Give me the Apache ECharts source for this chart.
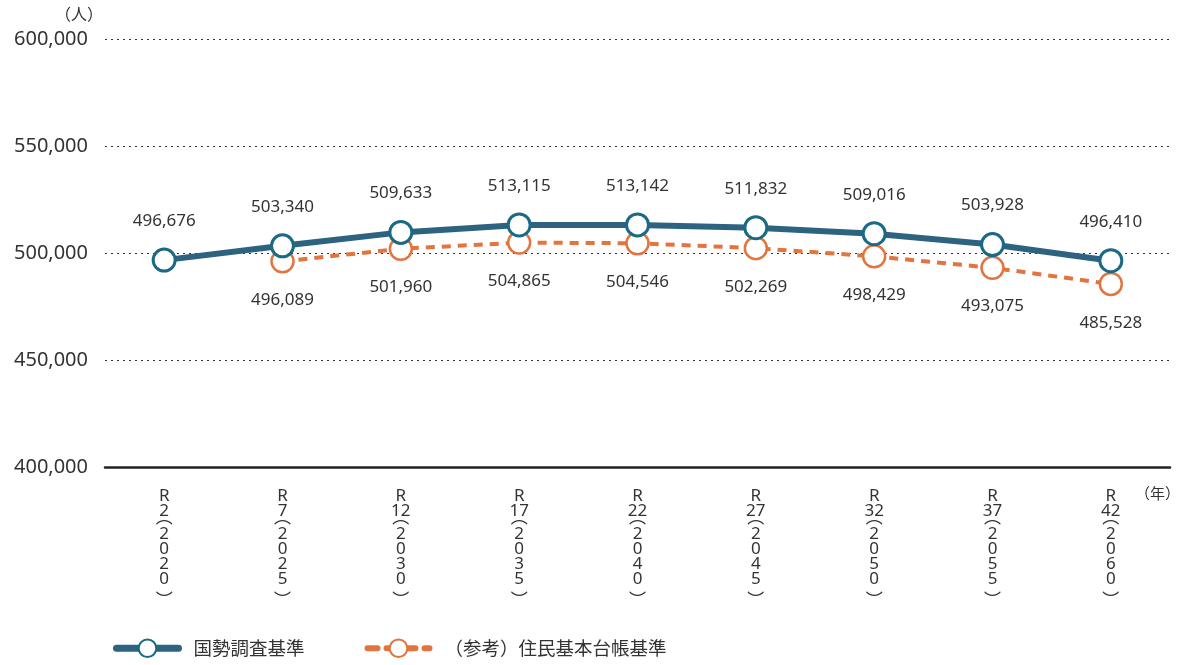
<!DOCTYPE html>
<html><head><meta charset="utf-8">
<script src="https://cdn.jsdelivr.net/npm/echarts@6/dist/echarts.min.js"></script>
<style>html,body{margin:0;padding:0;background:#fff}#c{width:1180px;height:665px}</style>
</head><body><div id="c"></div>
<script>
const reiwa = ['2','7','12','17','22','27','32','37','42'];
const years = ['2020','2025','2030','2035','2040','2045','2050','2055','2060'];
const kokusei = [496676, 503340, 509633, 513115, 513142, 511832, 509016, 503928, 496410];
const jumin = [null, 496089, 501960, 504865, 504546, 502269, 498429, 493075, 485528];
const seriesNames = ['国勢調査基準', '（参考）住民基本台帳基準'];

const categories = reiwa.map((r, i) => r + '|' + years[i]);
const FONT = '"Noto Sans", "Noto Sans CJK JP", sans-serif';
const JFONT = '"Noto Sans CJK JP", sans-serif';
const fmt = v => v.toLocaleString('en-US');

const xLabel = v => {
  const [r, y] = v.split('|');
  const lines = ['{d|R}', '{d|' + r + '}', '{o|︵}'];
  y.split('').forEach(c => lines.push('{d|' + c + '}'));
  lines.push('{c|︶}');
  return lines.join('\n');
};
const rich = {
  d: {fontSize: 17, lineHeight: 15, fontFamily: FONT, color: '#333'},
  o: {fontSize: 17, lineHeight: 8, fontFamily: JFONT, color: '#333', padding: [-6, 0, 6, 0]},
  c: {fontSize: 17, lineHeight: 10, fontFamily: JFONT, color: '#333', padding: [8, 0, -8, 0]}
};

const chart = echarts.init(document.getElementById('c'));
chart.setOption({
  animation: false,
  textStyle: {fontFamily: FONT},
  grid: {left: 105, right: 10, top: 39, bottom: 198},
  xAxis: {
    type: 'category', data: categories, boundaryGap: true,
    axisLine: {show: true, lineStyle: {color: '#222', width: 2.5}},
    axisTick: {show: false},
    axisLabel: {color: '#333', margin: 22, interval: 0, formatter: xLabel, rich: rich}
  },
  yAxis: {
    type: 'value', min: 400000, max: 600000, interval: 50000,
    axisLine: {show: false}, axisTick: {show: false},
    axisLabel: {fontSize: 20, color: '#333', margin: 17, formatter: v => fmt(v), fontFamily: FONT},
    splitLine: {lineStyle: {type: [2, 4], color: '#333', width: 1}}
  },
  legend: {
    left: 108, bottom: 2, itemWidth: 62, itemHeight: 22, itemGap: 60,
    textStyle: {fontSize: 18.5, color: '#333', fontFamily: JFONT, padding: [0, 0, 0, 10]},
    data: [
      {name: seriesNames[0], lineStyle: {width: 7, cap: 'round'}},
      {name: seriesNames[1], lineStyle: {width: 6, type: [10, 9], cap: 'round'}}
    ]
  },
  graphic: [
    {type: 'text', left: 55, top: 6, style: {text: '（人）', fill: '#333', font: '16px ' + JFONT}},
    {type: 'text', right: 0, top: 486, style: {text: '（年）', fill: '#333', font: '15px ' + JFONT}}
  ],
  series: [
    {
      name: seriesNames[1], type: 'line', data: jumin, z: 2,
      symbol: 'circle', symbolSize: 22,
      itemStyle: {color: '#fff', borderColor: '#e2743f', borderWidth: 2.5},
      lineStyle: {color: '#e2743f', width: 4, type: [9, 7]},
      label: {show: true, position: 'bottom', distance: 18, fontSize: 17, color: '#333', formatter: p => fmt(p.value), fontFamily: FONT}
    },
    {
      name: seriesNames[0], type: 'line', data: kokusei, z: 3,
      symbol: 'circle', symbolSize: 22,
      itemStyle: {color: '#fff', borderColor: '#1a6a86', borderWidth: 3},
      lineStyle: {color: '#2d6381', width: 6},
      label: {show: true, position: 'top', distance: 18, fontSize: 17, color: '#333', formatter: p => fmt(p.value), fontFamily: FONT}
    }
  ]
});
</script></body></html>
